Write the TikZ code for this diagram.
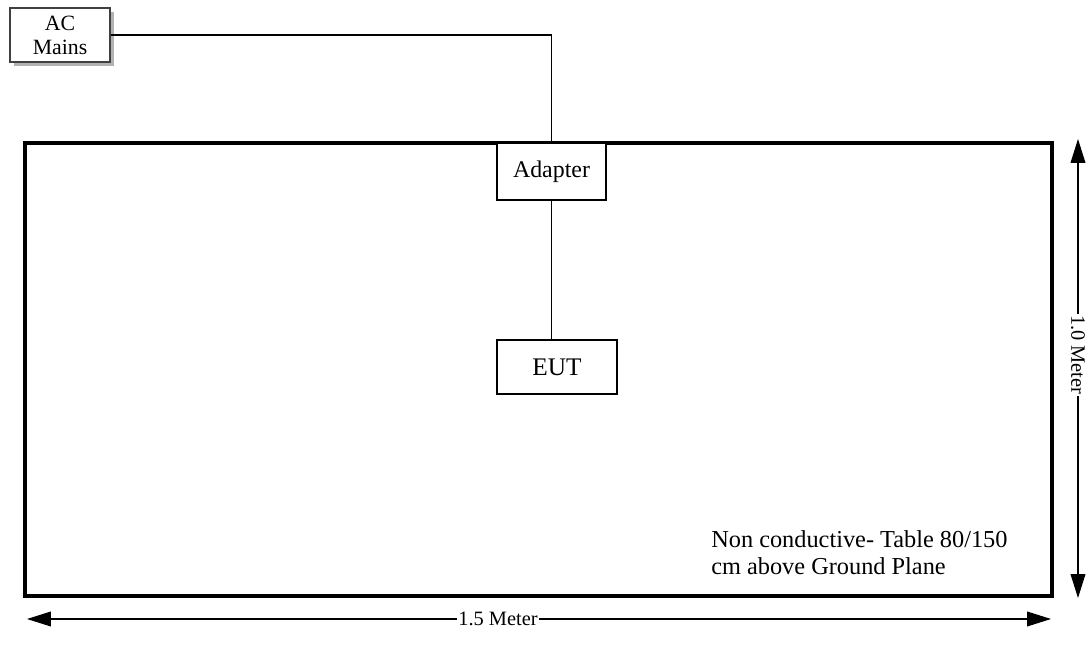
\documentclass[tikz,border=0pt]{standalone}
\usepackage{fontspec}
\setmainfont{Liberation Serif}
\usetikzlibrary{arrows.meta,shadows}

\tikzset{
	unitbox/.style={draw, fill=white, line width=0.8pt, inner sep=2pt, font=\fontsize{17}{20}\selectfont},
	dimarrow/.style={line width=0.8pt, {Triangle[length=17pt,width=10.5pt]}-{Triangle[length=17pt,width=10.5pt]}},
	dimlabel/.style={fill=white, inner sep=1pt, font=\fontsize{14.5}{16}\selectfont}
}

\begin{document}
\begin{tikzpicture}[x=0.025cm, y=-0.025cm]
	\useasboundingbox (0,0) rectangle (1088,656);
	% the table
	\draw[line width=2.2pt] (25,143) rectangle (1052,596);
	% mains socket with its shadow
	\node[unitbox, draw=black!75, line width=1.4pt, minimum width=2.5cm, minimum height=1.35cm, align=center,
		font=\fontsize{15.5}{17}\selectfont,
		drop shadow={shadow xshift=2.5pt, shadow yshift=-2.5pt, fill=black!30, opacity=1}] (mains) at (60,35) {AC\\Mains};
	% adapter and equipment under test
	\node[unitbox, minimum width=2.725cm, minimum height=1.425cm] (adapter) at (551.5,171.5) {Adapter};
	\node[unitbox, minimum width=3cm, minimum height=1.35cm, font=\fontsize{18}{20}\selectfont] (eut) at (557,367) {EUT};
	% cables
	\draw[line width=0.8pt] (mains) -| (adapter);
	\draw[line width=0.8pt] (adapter.south) -- (adapter.south |- eut.north);
	% note on the table (base is the second line)
	\node[anchor=base west, align=left, inner sep=0pt, font=\fontsize{17.3}{19}\selectfont] (note) at (711,574)
		{Non conductive- Table 80/150\\cm above Ground Plane};
	% dimensions
	\coordinate (wl) at (27,619);
	\coordinate (wr) at (1051,619);
	\draw[dimarrow] (wl) -- node[dimlabel, pos=0.46] {1.5 Meter} (wr);
	\coordinate (ht) at (1078,139);
	\coordinate (hb) at (1078,598);
	\draw[dimarrow] (ht) -- node[dimlabel, rotate=-90, pos=0.47] {1.0 Meter} (hb);
\end{tikzpicture}
\end{document}
